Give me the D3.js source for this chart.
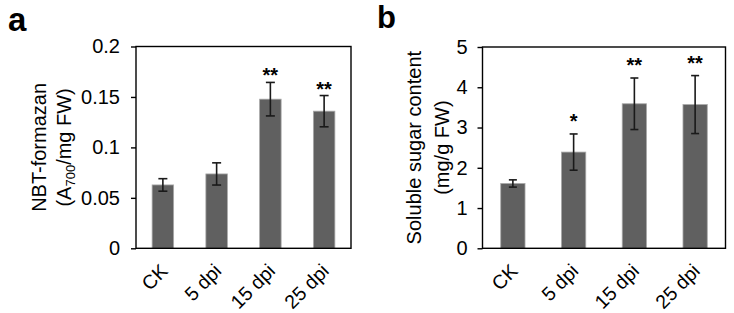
<!DOCTYPE html>
<html>
<head>
<meta charset="utf-8">
<script src="https://cdn.jsdelivr.net/npm/d3@7"></script>
<style>
  body { margin: 0; background: #fff; }
  text { font-family: "Liberation Sans", Arial, sans-serif; fill: #000; }
</style>
</head>
<body>
<script>
var width = 734
height = 313

// data
var categories = ["CK", "5 dpi", "15 dpi", "25 dpi"]
var nbtValues = [0.0628, 0.0737, 0.1478, 0.1359]
var nbtErrors = [0.0062, 0.0110, 0.0166, 0.0155]
var nbtStars = ["", "", "**", "**"]
var nbtTicks = [0, 0.05, 0.1, 0.15, 0.2]
var sugarValues = [1.61, 2.39, 3.59, 3.57]
var sugarErrors = [0.09, 0.45, 0.64, 0.72]
var sugarStars = ["", "*", "**", "**"]
var sugarTicks = [0, 1, 2, 3, 4, 5]

var svg = d3.select("body")
    .append("svg")
        .attr("width", width)
        .attr("height", height)

function panel(opt) {
    var g = svg.append("g")

    var x = d3.scaleBand()
        .domain(categories)
        .range([opt.left, opt.right])
        .paddingInner(0.6)
        .paddingOuter(0.3)

    var y = d3.scaleLinear()
        .domain([0, opt.max])
        .range([opt.bottom, opt.top])

    // bars
    g.selectAll("bar")
        .data(opt.values)
        .enter()
        .append("rect")
            .attr("x", function(d, i) { return x(categories[i]) })
            .attr("width", x.bandwidth())
            .attr("y", function(d) { return y(d) })
            .attr("height", function(d) { return y(0) - y(d) })
            .attr("fill", "#606060")
            .attr("stroke", "#a8a8a8")
            .attr("stroke-width", 0.8)

    // error bars
    var eb = g.selectAll("err")
        .data(opt.values)
        .enter()
        .append("g")
        .attr("stroke", "#1a1a1a")
        .attr("stroke-width", 1.6)
    eb.append("line")
        .attr("x1", function(d, i) { return x(categories[i]) + x.bandwidth() / 2 })
        .attr("x2", function(d, i) { return x(categories[i]) + x.bandwidth() / 2 })
        .attr("y1", function(d, i) { return y(d + opt.errors[i]) })
        .attr("y2", function(d, i) { return y(d - opt.errors[i]) })
    ;[1, -1].forEach(function(s) {
        eb.append("line")
            .attr("x1", function(d, i) { return x(categories[i]) + x.bandwidth() / 2 - opt.cap })
            .attr("x2", function(d, i) { return x(categories[i]) + x.bandwidth() / 2 + opt.cap })
            .attr("y1", function(d, i) { return y(d + s * opt.errors[i]) })
            .attr("y2", function(d, i) { return y(d + s * opt.errors[i]) })
    })

    // significance stars
    g.selectAll("star")
        .data(opt.values)
        .enter()
        .append("text")
            .attr("x", function(d, i) { return x(categories[i]) + x.bandwidth() / 2 })
            .attr("y", function(d, i) { return y(d + opt.errors[i]) - opt.starGap })
            .attr("text-anchor", "middle")
            .style("font-size", "20px")
            .style("font-weight", "bold")
            .text(function(d, i) { return opt.stars[i] })

    // frame
    g.append("rect")
        .attr("x", opt.left)
        .attr("y", opt.top)
        .attr("width", opt.right - opt.left)
        .attr("height", opt.bottom - opt.top)
        .attr("fill", "none")
        .attr("stroke", "#000")
        .attr("stroke-width", 1.4)

    // y axis
    var yAxis = g.append("g")
        .attr("transform", "translate(" + opt.left + ",0)")
        .call(d3.axisLeft(y).tickValues(opt.ticks).tickSize(5).tickPadding(opt.tickPad)
            .tickFormat(function(d) { return String(d) }))
    yAxis.select(".domain").remove()
    yAxis.selectAll(".tick line").attr("stroke", "#000").attr("stroke-width", 1.4)
    yAxis.selectAll(".tick text")
        .style("font-size", "20px")
        .style("font-family", "'Liberation Sans', Arial, sans-serif")

    // x labels, rotated
    g.selectAll("xlab")
        .data(categories)
        .enter()
        .append("text")
            .attr("text-anchor", "end")
            .style("font-size", "19.5px")
            .attr("transform", function(d) {
                return "translate(" + (x(d) + x.bandwidth() / 2 + 6) + "," + (opt.bottom + 24) + ") rotate(-45)"
            })
            .text(function(d) { return d })

    // y title, two lines
    var cy = (opt.top + opt.bottom) / 2
    opt.title.forEach(function(line, k) {
        var t = g.append("text")
            .attr("text-anchor", "middle")
            .style("font-size", "20px")
            .attr("transform", "translate(" + opt.titleX[k] + "," + cy + ") rotate(-90)")
        line.forEach(function(part) {
            var ts = t.append("tspan").text(part.t)
            if (part.sub) ts.style("font-size", "13px").attr("dy", 4)
            if (part.after) ts.attr("dy", -4)
        })
    })

    // panel letter
    svg.append("text")
        .attr("x", opt.letterX)
        .attr("y", opt.letterY)
        .style("font-size", opt.letterSize)
        .style("font-weight", "bold")
        .text(opt.letter)
}

panel({
    left: 136, right: 351, top: 46.5, bottom: 248.3,
    max: 0.2, ticks: nbtTicks, tickPad: 11,
    values: nbtValues, errors: nbtErrors, stars: nbtStars,
    cap: 4.5, starGap: 0,
    title: [[{t: "NBT-formazan"}], [{t: "(A"}, {t: "700", sub: true}, {t: "/mg FW)", after: true}]],
    titleX: [46, 71],
    letter: "a", letterX: 8, letterY: 31, letterSize: "33px"
})

panel({
    left: 482.5, right: 725.5, top: 47, bottom: 248.3,
    max: 5, ticks: sugarTicks, tickPad: 10,
    values: sugarValues, errors: sugarErrors, stars: sugarStars,
    cap: 4, starGap: 6,
    title: [[{t: "Soluble sugar content"}], [{t: "(mg/g FW)"}]],
    titleX: [421, 449],
    letter: "b", letterX: 377, letterY: 28, letterSize: "31px"
})
</script>
</body>
</html>
